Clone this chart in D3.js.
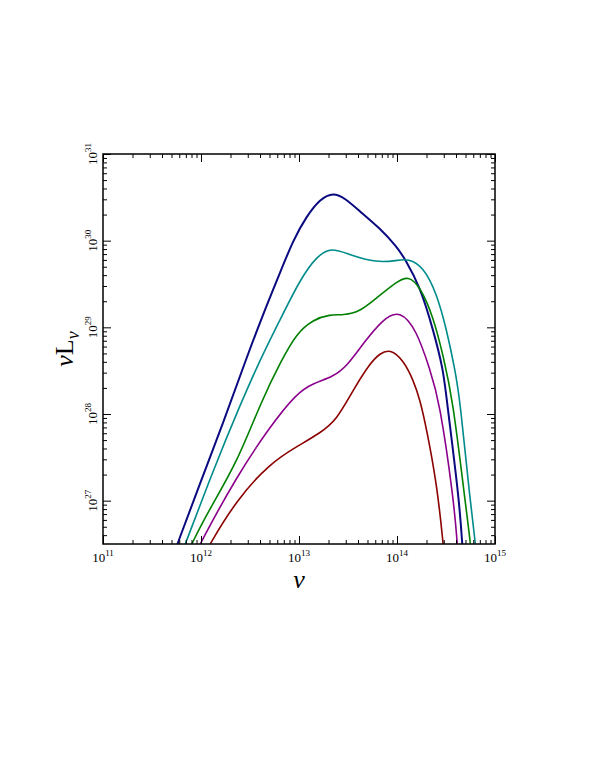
<!DOCTYPE html>
<html>
  <head>
    <meta charset="utf-8">
    <title>nu L_nu spectra</title>
    <script src="https://d3js.org/d3.v7.min.js"></script>
    <style>
      body { margin: 0; background: #fff; }
      text { font-family: "Liberation Serif", "DejaVu Serif", serif; fill: #000; }
    </style>
  </head>
  <body>
    <script>
      var width = 595;
      var height = 770;
      var margin = {top: 154, left: 103, right: 100, bottom: 226};

      // log10(nu) and log10(nu L_nu), one pair of arrays per curve
      var navyNu = [11.70, 11.758, 11.99, 12.228, 12.449, 12.636, 12.806, 12.942, 13.079, 13.214, 13.35, 13.48, 13.605, 13.827, 13.997, 14.082, 14.235, 14.37, 14.473, 14.507, 14.636, 14.666, 14.69];
      var navyL  = [26.3, 26.5, 27.2, 27.9, 28.6, 29.16, 29.63, 30.01, 30.285, 30.48, 30.56, 30.48, 30.354, 30.143, 29.93, 29.79, 29.47, 28.97, 28.51, 28.163, 27.0, 26.5, 26.1];

      var tealNu = [11.77, 11.837, 12.126, 12.39, 12.602, 12.806, 13.01, 13.18, 13.33, 13.52, 13.793, 13.997, 14.115, 14.268, 14.405, 14.507, 14.592, 14.643, 14.745, 14.803, 14.83];
      var tealL  = [26.3, 26.49, 27.355, 28.08, 28.624, 29.085, 29.55, 29.82, 29.925, 29.835, 29.746, 29.77, 29.795, 29.70, 29.393, 28.97, 28.51, 28.163, 27.0, 26.5, 26.1];

      var greenNu = [11.83, 11.898, 12.1, 12.364, 12.62, 12.823, 12.976, 13.146, 13.316, 13.452, 13.622, 13.793, 13.997, 14.115, 14.235, 14.37, 14.473, 14.57, 14.694, 14.752, 14.78];
      var greenL  = [26.3, 26.49, 26.93, 27.432, 28.16, 28.624, 28.932, 29.09, 29.15, 29.14, 29.18, 29.34, 29.527, 29.595, 29.47, 29.124, 28.665, 28.163, 27.0, 26.5, 26.1];

      var purpleNu = [11.91, 11.983, 12.364, 12.704, 12.976, 13.146, 13.35, 13.487, 13.656, 13.86, 14.03, 14.2, 14.337, 14.432, 14.58, 14.616, 14.64];
      var purpleL  = [26.3, 26.49, 27.28, 27.855, 28.24, 28.355, 28.43, 28.55, 28.815, 29.1, 29.2, 28.97, 28.51, 28.163, 27.0, 26.5, 26.1];

      var redNu = [12.0, 12.085, 12.364, 12.704, 12.976, 13.214, 13.384, 13.554, 13.724, 13.827, 13.929, 14.064, 14.167, 14.235, 14.303, 14.405, 14.473, 14.5];
      var redL  = [26.3, 26.49, 27.01, 27.432, 27.624, 27.778, 27.93, 28.28, 28.585, 28.7, 28.75, 28.624, 28.39, 28.163, 27.82, 27.2, 26.5, 26.1];

      var curveNames  = ["navy", "teal", "green", "purple", "red"];
      var curveColors = ["#0a0a80", "#008b8b", "#008000", "#8b008b", "#8b0000"];
      var curveNu = [navyNu, tealNu, greenNu, purpleNu, redNu];
      var curveL  = [navyL, tealL, greenL, purpleL, redL];

      var xTicks = [11, 12, 13, 14, 15];
      var yTicks = [27, 28, 29, 30, 31];

      var x0 = margin.left, x1 = width - margin.right;
      var y0 = height - margin.bottom, y1 = margin.top;

      var xScale = d3.scaleLog().domain([1e11, 1e15]).range([x0, x1]);
      var yScale = d3.scaleLog().domain([Math.pow(10, 26.5), 1e31]).range([y0, y1]);

      var svg = d3.select("body")
        .append("svg")
        .attr("width", width)
        .attr("height", height);

      svg.append("clipPath").attr("id", "plotArea")
        .append("rect")
          .attr("x", x0).attr("y", y1)
          .attr("width", x1 - x0).attr("height", y0 - y1);

      var line = d3.line()
        .x(function(d) { return xScale(Math.pow(10, d[0])); })
        .y(function(d) { return yScale(Math.pow(10, d[1])); })
        .curve(d3.curveBasis);

      var series = curveNames.map(function(name, i) {
        return {name: name, color: curveColors[i],
                pts: curveNu[i].map(function(v, j) { return [v, curveL[i][j]]; })};
      });

      svg.append("g")
        .attr("clip-path", "url(#plotArea)")
        .selectAll("path")
        .data(series)
        .enter()
        .append("path")
          .attr("d", function(d) { return line(d.pts); })
          .attr("fill", "none")
          .attr("stroke", function(d) { return d.color; })
          .attr("stroke-width", function(d) { return d.name == "navy" ? 2 : 1.6; });

      // inward ticks on all four sides
      var minorX = [], minorY = [];
      for (var e = 11; e < 15; e++) for (var m = 2; m < 10; m++) minorX.push(m * Math.pow(10, e));
      for (var e = 26; e < 31; e++) for (var m = 2; m < 10; m++) {
        var v = m * Math.pow(10, e);
        if (v >= Math.pow(10, 26.5)) minorY.push(v);
      }
      var majorX = xTicks.map(function(p) { return Math.pow(10, p); });
      var majorY = yTicks.map(function(p) { return Math.pow(10, p); });

      function noDomain(g) { g.select(".domain").remove(); }

      svg.append("g").attr("transform", `translate(0,${y0})`)
        .call(d3.axisTop(xScale).tickValues(majorX).tickSize(8).tickFormat("")).call(noDomain);
      svg.append("g").attr("transform", `translate(0,${y0})`)
        .call(d3.axisTop(xScale).tickValues(minorX).tickSize(4).tickFormat("")).call(noDomain);
      svg.append("g").attr("transform", `translate(0,${y1})`)
        .call(d3.axisBottom(xScale).tickValues(majorX).tickSize(8).tickFormat("")).call(noDomain);
      svg.append("g").attr("transform", `translate(0,${y1})`)
        .call(d3.axisBottom(xScale).tickValues(minorX).tickSize(4).tickFormat("")).call(noDomain);
      svg.append("g").attr("transform", `translate(${x0},0)`)
        .call(d3.axisRight(yScale).tickValues(majorY).tickSize(8).tickFormat("")).call(noDomain);
      svg.append("g").attr("transform", `translate(${x0},0)`)
        .call(d3.axisRight(yScale).tickValues(minorY).tickSize(4).tickFormat("")).call(noDomain);
      svg.append("g").attr("transform", `translate(${x1},0)`)
        .call(d3.axisLeft(yScale).tickValues(majorY).tickSize(8).tickFormat("")).call(noDomain);
      svg.append("g").attr("transform", `translate(${x1},0)`)
        .call(d3.axisLeft(yScale).tickValues(minorY).tickSize(4).tickFormat("")).call(noDomain);
      svg.selectAll(".tick line").attr("stroke", "#000").attr("stroke-width", 1);

      svg.append("rect")
        .attr("x", x0).attr("y", y1)
        .attr("width", x1 - x0).attr("height", y0 - y1)
        .attr("fill", "none").attr("stroke", "#000").attr("stroke-width", 1.5);

      // tick labels: 10 with superscript exponent
      var xl = svg.selectAll(".xlab").data(xTicks).enter()
        .append("text")
          .attr("class", "xlab")
          .attr("x", function(p) { return xScale(Math.pow(10, p)); })
          .attr("y", y0 + 18)
          .attr("text-anchor", "middle")
          .style("font-size", "13px");
      xl.append("tspan").text("10");
      xl.append("tspan").attr("dy", -6).style("font-size", "9px").text(function(p) { return p; });

      var yl = svg.selectAll(".ylab").data(yTicks).enter()
        .append("text")
          .attr("class", "ylab")
          .attr("transform", function(p) { return `translate(${x0 - 6},${yScale(Math.pow(10, p))}) rotate(-90)`; })
          .attr("text-anchor", "middle")
          .style("font-size", "13px");
      yl.append("tspan").text("10");
      yl.append("tspan").attr("dy", -6).style("font-size", "9px").text(function(p) { return p; });

      svg.append("text")
        .attr("x", (x0 + x1) / 2)
        .attr("y", y0 + 44)
        .attr("text-anchor", "middle")
        .style("font-size", "26px")
        .style("font-style", "italic")
        .text("ν");

      var yLabel = svg.append("text")
        .attr("transform", `translate(73,${(y0 + y1) / 2}) rotate(-90)`)
        .attr("text-anchor", "middle")
        .style("font-size", "26px");
      yLabel.append("tspan").style("font-style", "italic").text("ν");
      yLabel.append("tspan").text("L");
      yLabel.append("tspan").attr("dy", 6).style("font-size", "18px").style("font-style", "italic").text("ν");
    </script>
  </body>
</html>
